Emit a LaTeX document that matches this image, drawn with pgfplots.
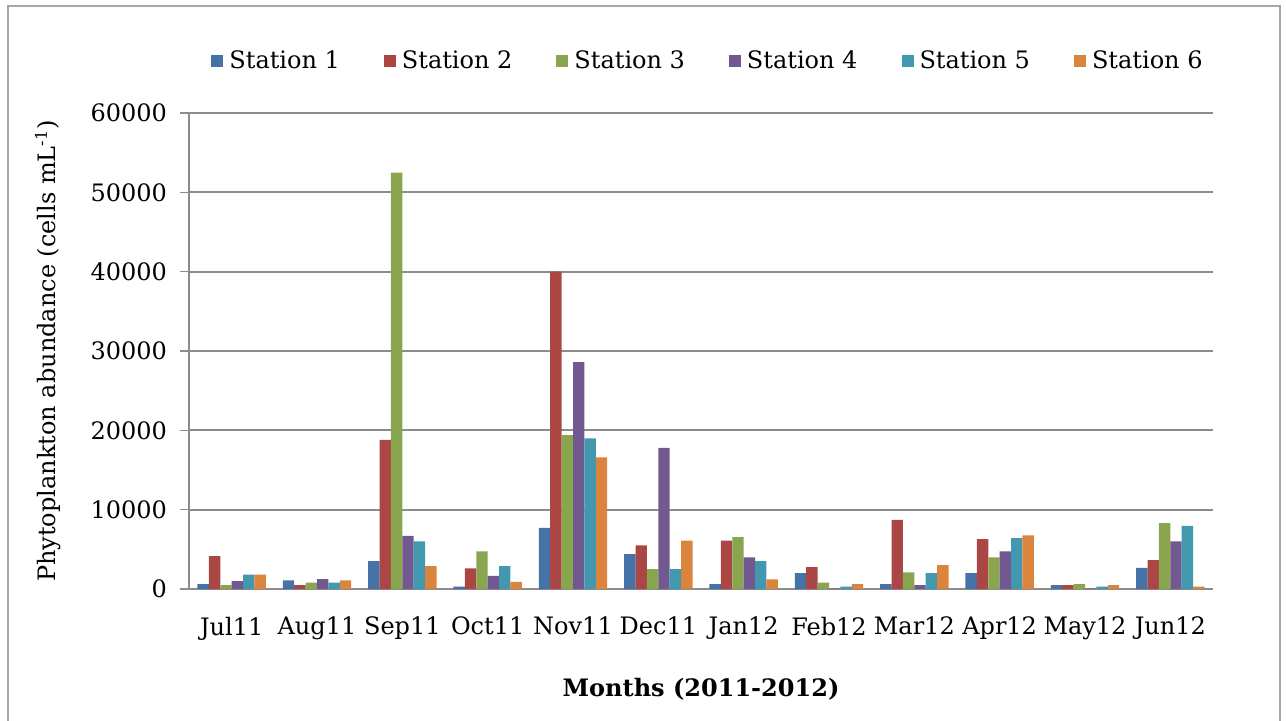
\documentclass[border=0pt]{standalone}
\usepackage{pgfplots}
\pgfplotsset{compat=1.18}
\usepackage{fontspec}
\setmainfont{DejaVu Serif}
\definecolor{c1}{HTML}{4572A7}
\definecolor{c2}{HTML}{AA4643}
\definecolor{c3}{HTML}{89A54E}
\definecolor{c4}{HTML}{71588F}
\definecolor{c5}{HTML}{4198AF}
\definecolor{c6}{HTML}{DB843D}
\definecolor{gridc}{HTML}{8C8C8C}
\begin{document}
\begin{tikzpicture}
\path[use as bounding box] (0pt,0pt) rectangle (643pt,360pt);
\draw[gray!70,line width=0.8pt] (4pt,-5pt) rectangle (640pt,357pt);
\begin{axis}[
  at={(94.5pt,65.5pt)}, anchor=south west,
  scale only axis, width=512pt, height=238pt,
  ymin=0, ymax=60000, ytick={0,10000,...,60000},
  scaled y ticks=false,
  xmin=-0.5, xmax=11.5,
  xtick={0,...,11},
  xticklabels={Jul11,Aug11,Sep11,Oct11,Nov11,Dec11,Jan12,Feb12,Mar12,Apr12,May12,Jun12},
  ybar=0pt, bar width=5.7pt,
  /pgf/number format/1000 sep={},
  /pgf/number format/assume math mode=true,
  ymajorgrids, grid style={gridc,line width=1pt},
  axis line style={gridc,line width=1pt},
  axis x line*=bottom, axis y line*=left,
  x axis line style={-}, y axis line style={-},
  xtick style={draw=none},
  ytick style={gridc,line width=0.8pt},
  tick align=outside, major tick length=4.5pt,
  yticklabel style={font=\fontsize{12}{14}\selectfont, xshift=-3pt},
  xticklabel style={font=\fontsize{12}{14}\selectfont, yshift=-6pt},
  ylabel={Phytoplankton abundance (cells mL\textsuperscript{-1})},
  ylabel style={font=\fontsize{12}{14}\selectfont, yshift=8pt},
  xlabel={\textbf{Months (2011-2012)}},
  xlabel style={font=\fontsize{12}{14}\selectfont, yshift=-12pt},
  legend columns=6,
  legend style={at={(0.5,1)}, anchor=south, yshift=16.5pt, xshift=4pt, draw=none,
    font=\fontsize{12}{14}\selectfont,
    /tikz/every odd column/.append style={column sep=1pt},
    /tikz/every even column/.append style={column sep=20pt}},
  legend image code/.code={\fill[#1] (0pt,-3pt) rectangle (6pt,3pt);},
  every axis plot/.append style={draw=none},
]
\addplot[fill=c1] coordinates {(0,600) (1,1100) (2,3500) (3,300) (4,7700) (5,4400) (6,600) (7,2000) (8,600) (9,2000) (10,500) (11,2650)};
\addplot[fill=c2] coordinates {(0,4150) (1,500) (2,18800) (3,2600) (4,40000) (5,5500) (6,6100) (7,2750) (8,8700) (9,6300) (10,500) (11,3650)};
\addplot[fill=c3] coordinates {(0,500) (1,800) (2,52500) (3,4750) (4,19400) (5,2500) (6,6550) (7,800) (8,2100) (9,4000) (10,600) (11,8300)};
\addplot[fill=c4] coordinates {(0,1000) (1,1250) (2,6700) (3,1650) (4,28600) (5,17800) (6,4000) (7,50) (8,500) (9,4750) (10,50) (11,6000)};
\addplot[fill=c5] coordinates {(0,1800) (1,800) (2,6000) (3,2900) (4,19000) (5,2500) (6,3500) (7,300) (8,2000) (9,6400) (10,300) (11,7950)};
\addplot[fill=c6] coordinates {(0,1800) (1,1100) (2,2900) (3,900) (4,16600) (5,6100) (6,1200) (7,600) (8,3000) (9,6750) (10,500) (11,300)};
\legend{Station 1,Station 2,Station 3,Station 4,Station 5,Station 6}
\end{axis}
\end{tikzpicture}
\end{document}
